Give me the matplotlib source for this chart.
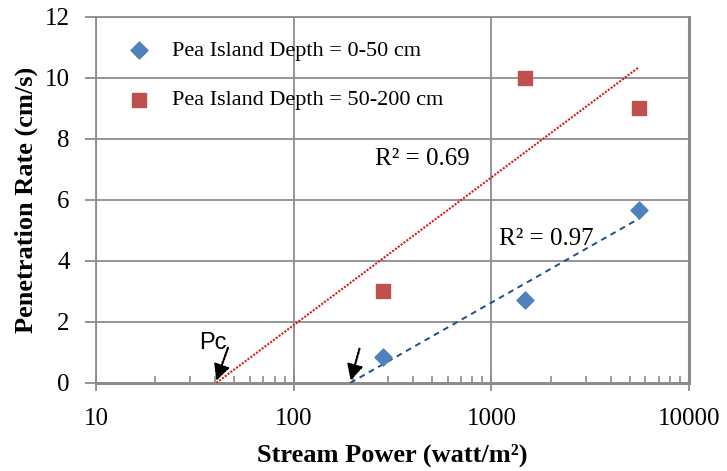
import numpy as np
import matplotlib
matplotlib.use("Agg")
import matplotlib.pyplot as plt
from matplotlib.ticker import LogLocator, FixedLocator, NullFormatter

# --- data ---
power_shallow = [283, 1470, 5570]      # watt/m2, depth 0-50 cm
rate_shallow = [0.85, 2.72, 5.68]      # cm/s
power_deep = [283, 1480, 5570]         # watt/m2, depth 50-200 cm
rate_deep = [3.0, 10.0, 9.0]           # cm/s
labels = ["Pea Island Depth = 0-50 cm", "Pea Island Depth = 50-200 cm"]
r2_labels = ["R\u00b2 = 0.97", "R\u00b2 = 0.69"]

GRID = "#8c8c8c"
BLUE = "#4f81bd"
RED = "#c0504d"

plt.rcParams["font.family"] = ["Liberation Serif", "DejaVu Serif"]

fig = plt.figure(figsize=(7.27, 4.71), dpi=100)
ax = fig.add_axes([0.132, 0.187, 0.816, 0.777])


def log_fit(x, y):
    # excel style logarithmic trendline y = a ln(x) + b
    a, b = np.polyfit(np.log(x), y, 1)
    x0 = np.exp(-b / a)
    xs = np.geomspace(x0, max(x), 100)
    return xs, a * np.log(xs) + b


xs, ys = log_fit(power_deep, rate_deep)
ax.plot(xs, ys, color="#d81e1e", linestyle=(0, (1.0, 0.7)), linewidth=1.5, zorder=3)
xs, ys = log_fit(power_shallow, rate_shallow)
ax.plot(xs, ys, color="#1f4e8c", linestyle=(0, (3, 2.5)), linewidth=1.4, zorder=3)

ax.scatter(power_shallow, rate_shallow, marker="D", s=75, color=BLUE, zorder=4, label=labels[0])
ax.scatter(power_deep, rate_deep, marker="s", s=100, color=RED, zorder=4, label=labels[1])

ax.set_xscale("log")
ax.set_xlim(10, 10000)
ax.set_ylim(0, 12)
ax.set_yticks(np.arange(0, 13, 2))
ax.xaxis.set_major_locator(FixedLocator([10, 100, 1000, 10000]))
ax.xaxis.set_major_formatter(plt.FuncFormatter(lambda v, p: f"{int(v)}"))
ax.xaxis.set_minor_locator(LogLocator(base=10, subs=np.arange(2, 10)))
ax.xaxis.set_minor_formatter(NullFormatter())

ax.grid(True, which="major", color=GRID, linewidth=1.3)
ax.set_axisbelow(True)
for side in ax.spines:
    ax.spines[side].set_color(GRID)
    ax.spines[side].set_linewidth(1.3)
ax.spines["bottom"].set_linewidth(2.2)
ax.spines["right"].set_linewidth(2.2)

ax.tick_params(axis="x", which="major", direction="inout", length=12, width=1.3,
               color=GRID, labelsize=18, pad=12)
ax.tick_params(axis="x", which="minor", direction="in", length=5, width=1.2, color=GRID)
ax.tick_params(axis="y", which="major", direction="out", length=8, width=1.3,
               color=GRID, labelsize=18, pad=11)

ax.set_xlabel("Stream Power (watt/m\u00b2)", fontsize=19, fontweight="bold", labelpad=10)
ax.set_ylabel("Penetration Rate (cm/s)", fontsize=19, fontweight="bold", labelpad=5)

ax.legend(loc="upper left", frameon=False, fontsize=16, handletextpad=0.5,
          labelspacing=1.3, borderaxespad=0.0, bbox_to_anchor=(0.02, 0.96))

ax.text(1900, 4.73, r2_labels[0], fontsize=18, ha="center", va="center")
ax.text(447, 7.34, r2_labels[1], fontsize=18, ha="center", va="center")
ax.text(39, 1.32, "Pc", fontsize=17, ha="center", va="center",
        family=["Liberation Sans", "DejaVu Sans"])

arrow = dict(arrowstyle="-|>,head_length=0.6,head_width=0.3", linestyle=(0, (0.8, 0.8)),
             color="black", linewidth=1.6, mutation_scale=16, shrinkA=0, shrinkB=0)
ax.annotate("", xy=(40.6, 0.07), xytext=(46.5, 1.15), arrowprops=arrow)
ax.annotate("", xy=(194, 0.07), xytext=(215, 1.12), arrowprops=arrow)

fig.savefig("out.png", dpi=100)
